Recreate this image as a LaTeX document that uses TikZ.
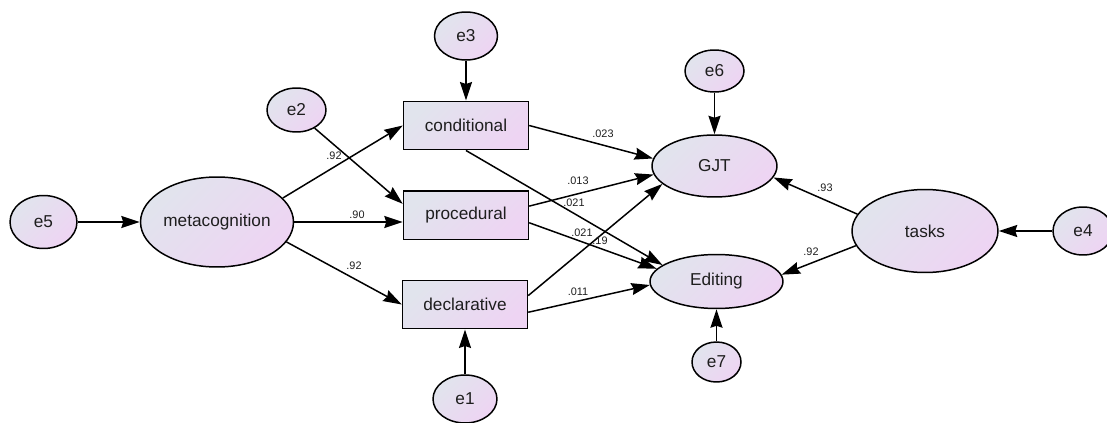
\documentclass[tikz,border=0pt]{standalone}
\usepackage{fontspec}
\setmainfont{Liberation Sans}
\usetikzlibrary{arrows.meta,shapes.geometric}
\definecolor{shA}{HTML}{E1E4ED}
\definecolor{shB}{HTML}{EED4F3}
\definecolor{txt}{HTML}{1E1E1E}
\tikzset{
  fillshade/.style={top color=shA, bottom color=shB, shading angle=45},
  latent/.style={ellipse, draw=black, line width=0.85pt, fillshade, inner sep=0pt,
     font=\fontsize{9.8}{11}\selectfont, text=txt},
  obs/.style={rectangle, draw=black, line width=0.85pt, fillshade, inner sep=0pt,
     minimum width=2.5cm, minimum height=0.97cm, font=\fontsize{9.8}{11}\selectfont, text=txt},
  path/.style={draw=black, line width=0.85pt, -{Stealth[length=0.37cm,width=0.24cm,inset=0.04cm]}},
  coef/.style={font=\fontsize{6.2}{7}\selectfont, text=txt, inner sep=0pt}
}
\begin{document}
\begin{tikzpicture}[x=0.02cm,y=-0.02cm]
\useasboundingbox (0,0) rectangle (1107,423);
% nodes
\node[latent, minimum width=1.34cm, minimum height=1.06cm] (e5) at (43.5,222) {e5};
\node[latent, minimum width=3.06cm, minimum height=1.8cm] (meta) at (217,222) {metacognition};
\node[latent, minimum width=1.18cm, minimum height=0.88cm] (e2) at (296.5,110) {e2};
\node[latent, minimum width=1.26cm, minimum height=0.96cm] (e3) at (466,36) {e3};
\node[latent, minimum width=1.28cm, minimum height=0.96cm] (e1) at (465,399) {e1};
\node[obs] (cond) at (466,125.5) {conditional};
\node[obs] (proc) at (466,215) {procedural};
\node[obs] (decl) at (465,304.5) {declarative};
\node[latent, minimum width=1.18cm, minimum height=0.84cm] (e6) at (714.5,71) {e6};
\node[latent, minimum width=2.5cm, minimum height=1.24cm] (gjt) at (714.5,166) {GJT};
\node[latent, minimum width=2.66cm, minimum height=1.08cm] (edit) at (716.5,281.5) {Editing};
\node[latent, minimum width=0.98cm, minimum height=0.8cm] (e7) at (716.5,362) {e7};
\node[latent, minimum width=2.92cm, minimum height=1.66cm] (tasks) at (925,231) {tasks};
\node[latent, minimum width=1.2cm, minimum height=0.96cm] (e4) at (1083,231) {e4};
% paths
\draw[path] (e5.east) -- (meta.west);
\draw[path] (meta.20) -- (cond.west);
\draw[path] (meta.east) -- (meta.east -| proc.west);
\draw[path] (meta.-16) -- (decl.west);
\draw[path] (e2.-45) -- (proc.170);
\draw[path] (e3.south) -- (cond.north);
\draw[path] (e1.north) -- (decl.south);
\draw[path] (cond.east) -- (gjt.173);
\draw[path] (cond.south) -- (edit.163);
\draw[path] (proc.8) -- (gjt.188);
\draw[path] (proc.-7) -- (edit.168);
\draw[path] (decl.8) -- (gjt.199);
\draw[path] (decl.-7) -- (edit.183);
\draw[path] (e6.south) -- (gjt.north);
\draw[path] (e7.north) -- (edit.south);
\draw[path] (tasks.166) -- (gjt.-11);
\draw[path] (tasks.192) -- (edit.6);
\draw[path] (e4.west) -- (tasks.east);
% coefficients
\node[coef] (c1) at (334,156) {.92};
\node[coef] (c2) at (357,215) {.90};
\node[coef] (c3) at (354,266) {.92};
\node[coef] (c4) at (603,134) {.023};
\node[coef] (c5) at (578,181) {.013};
\node[coef] (c6) at (574,203) {.021};
\node[coef] (c7) at (582,233) {.021};
\node[coef] (c8) at (600,241) {.19};
\node[coef] (c9) at (578,292) {.011};
\node[coef] (c10) at (825,188) {.93};
\node[coef] (c11) at (811,252) {.92};
\end{tikzpicture}
\end{document}
